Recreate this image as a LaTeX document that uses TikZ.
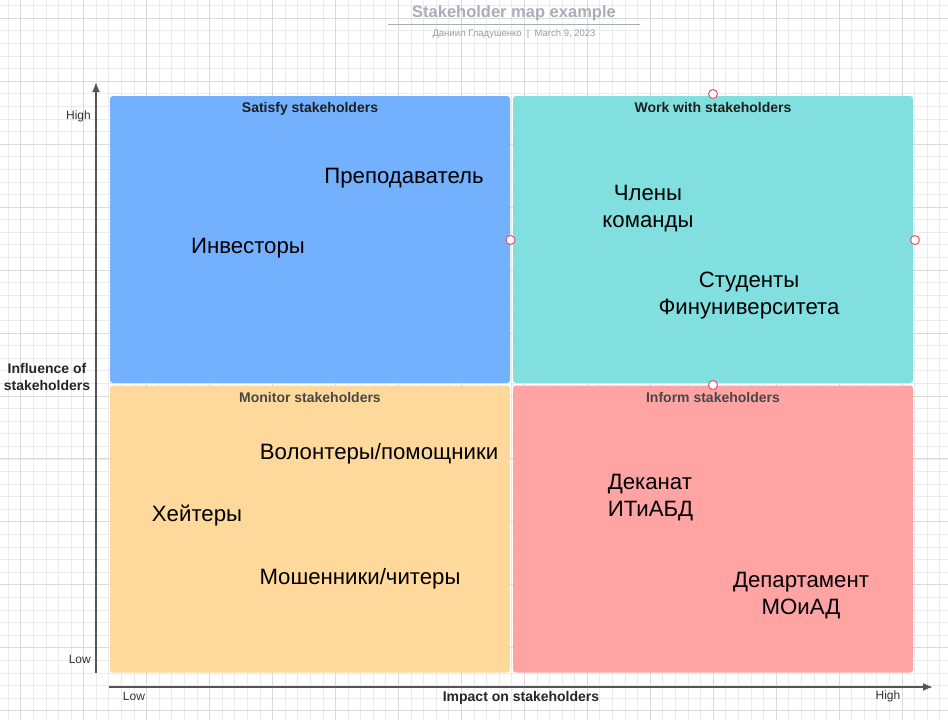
\documentclass[tikz,border=0pt]{standalone}
\usepackage{fontspec}
\setmainfont{Liberation Sans}
\usetikzlibrary{arrows.meta}
\definecolor{qblue}{HTML}{73B1FE}
\definecolor{qteal}{HTML}{81E0DF}
\definecolor{qorange}{HTML}{FFD99B}
\definecolor{qred}{HTML}{FFA3A3}
\definecolor{gridminor}{HTML}{EBEBEB}
\definecolor{gridmajor}{HTML}{DADADA}
\definecolor{titlegray}{HTML}{A9AEB6}
\definecolor{axisgray}{HTML}{555555}
\definecolor{handle}{HTML}{E2566A}
\tikzset{
  quad/.style={draw=none, rounded corners=3pt, minimum width=400pt, minimum height=287pt, inner sep=0pt},
  hdr/.style={font=\bfseries\fontsize{14}{16}\selectfont, text=black!88, inner sep=0pt, yshift=-1.5pt},
  hdrlow/.style={font=\bfseries\fontsize{14}{16}\selectfont, text=black!72, inner sep=0pt, yshift=-1.5pt},
  big/.style={font=\fontsize{22.2}{27}\selectfont, align=center, inner sep=0pt, text=black, yshift=-2pt},
  small/.style={font=\fontsize{12}{14}\selectfont, text=black!80, inner sep=0pt, yshift=-1pt},
  axlabel/.style={font=\bfseries\fontsize{14}{17}\selectfont, text=black!85, align=center, inner sep=0pt, yshift=-1.5pt},
  axis/.style={draw=axisgray, line width=1.8pt, -{Latex[length=10pt,width=8pt]}},
  hnd/.style={circle, draw=handle, fill=white, line width=1pt, minimum size=9pt, inner sep=0pt},
}
\begin{document}
\begin{tikzpicture}[x=1pt,y=-1pt]
\useasboundingbox (0,0) rectangle (948,720);
\fill[white] (0,0) rectangle (948,720);
% grid
\foreach \i in {-2,...,74} {
  \draw[gridminor, line width=0.9pt] ({20.8+\i*12.59},0) -- ({20.8+\i*12.59},720);
}
\foreach \j in {-2,...,56} {
  \draw[gridminor, line width=0.9pt] (0,{18.3+\j*12.59}) -- (948,{18.3+\j*12.59});
}
\foreach \i in {0,5,...,70} {
  \draw[gridmajor, line width=1pt] ({20.8+\i*12.59},0) -- ({20.8+\i*12.59},720);
}
\foreach \j in {0,5,...,55} {
  \draw[gridmajor, line width=1pt] (0,{18.3+\j*12.59}) -- (948,{18.3+\j*12.59});
}
% title
\node[font=\bfseries\fontsize{16.5}{19}\selectfont, text=titlegray, inner sep=0pt] (title) at (514,13) {Stakeholder map example};
\coordinate (ulA) at (388,24.5);
\coordinate (ulB) at (640,24.5);
\draw[titlegray, line width=1.6pt] (ulA) -- (ulB);
\node[font=\fontsize{9.5}{11}\selectfont, text=titlegray!90!black, inner sep=0pt] (subtitle) at (514,34) {Даниил Гладушенко\ \ |\ \ March 9, 2023};
% quadrants
\node[quad, fill=qblue] (tl) at (310,239.5) {};
\node[quad, fill=qteal] (tr) at (713,239.5) {};
\node[quad, fill=qorange] (bl) at (310,529) {};
\node[quad, fill=qred] (br) at (713,529) {};
% headers
\node[hdr, yshift=-1pt] (tlh) at (310,106) {Satisfy stakeholders};
\node[hdr] (trh) at (713,106) {Work with stakeholders};
\node[hdrlow] (blh) at (310,396) {Monitor stakeholders};
\node[hdrlow] (brh) at (713,396) {Inform stakeholders};
% contents
\node[big] (prep) at (404,176) {Преподаватель};
\node[big] (inv) at (248,246) {Инвесторы};
\node[big] (team) at (648,206.5) {Члены\\команды};
\node[big] (stud) at (749,293.5) {Студенты\\Финуниверситета};
\node[big] (vol) at (379,452) {Волонтеры/помощники};
\node[big] (hate) at (197,514) {Хейтеры};
\node[big] (fraud) at (360,577) {Мошенники/читеры};
\node[big, align=left] (dek) at (650.5,495.5) {Деканат\\ИТиАБД};
\node[big] (dep) at (801,593.5) {Департамент\\МОиАД};
% axes
\coordinate (yA) at (96,673);
\coordinate (yB) at (96,82);
\coordinate (xA) at (109,687);
\coordinate (xB) at (933,687);
\draw[axis] (yA) -- (yB);
\draw[axis] (xA) -- (xB);
\node[small, anchor=east] (yhigh) at (91,115) {High};
\node[small, anchor=east] (ylow) at (91,658) {Low};
\node[small] (xlow) at (134,695) {Low};
\node[small] (xhigh) at (888,695) {High};
\node[axlabel] (xlab) at (521,696) {Impact on stakeholders};
\node[axlabel] (ylab) at (47,375.5) {Influence of\\stakeholders};
% handles
\node[hnd] (h1) at (713,94) {};
\node[hnd] (h2) at (510.5,240) {};
\node[hnd] (h3) at (915,240) {};
\node[hnd] (h4) at (713,385) {};
\end{tikzpicture}
\end{document}
